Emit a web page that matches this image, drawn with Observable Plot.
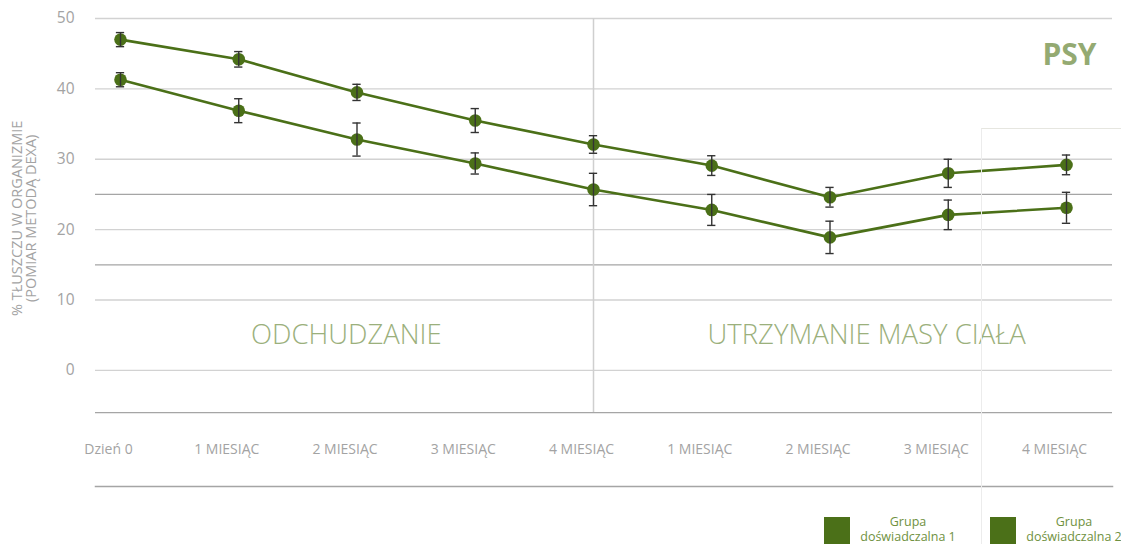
<!DOCTYPE html>
<html>
<head>
<meta charset="utf-8">
<script src="https://cdn.jsdelivr.net/npm/d3@7"></script>
<script src="https://cdn.jsdelivr.net/npm/@observablehq/plot@0.6"></script>
<style>
  body { margin: 0; background: #fff; font-family: "Open Sans", sans-serif; }
  #wrap { position: relative; width: 1121px; }
  #box { position: absolute; left: 981px; top: 128px; right: 0; height: 416px; border-left: 1px solid #ececec; border-top: 1px solid #e6e6e0; pointer-events: none; }
  #legend { position: relative; height: 44px; width: 1121px; }
  .item { position: absolute; top: 17px; display: flex; align-items: flex-start; }
  .sw { width: 26px; height: 27px; background: #4b7018; }
  .lab { width: 104px; margin-left: 6px; text-align: center; font-size: 12.5px; line-height: 15px; color: #6f9140; margin-top: -3px; }
</style>
</head>
<body>
<div id="wrap">
  <div id="chart"></div>
  <div id="legend"></div>
  <div id="box"></div>
</div>
<script>
const categories = ["Dzień 0", "1 MIESIĄC", "2 MIESIĄC", "3 MIESIĄC", "4 MIESIĄC", "1 MIESIĄC", "2 MIESIĄC", "3 MIESIĄC", "4 MIESIĄC"];
const group1 = [47.0, 44.2, 39.5, 35.5, 32.1, 29.1, 24.6, 28.0, 29.2];
const group1Err = [1.0, 1.1, 1.15, 1.7, 1.25, 1.4, 1.4, 2.0, 1.4];
const group2 = [41.3, 36.9, 32.8, 29.4, 25.7, 22.8, 18.9, 22.1, 23.1];
const group2Err = [1.0, 1.7, 2.35, 1.5, 2.3, 2.2, 2.3, 2.1, 2.2];
const seriesNames = ["Grupa\ndoświadczalna 1", "Grupa\ndoświadczalna 2"];
const yTicks = [0, 10, 20, 30, 40, 50];
const tableLines = [25, 15, -6];
const phases = ["ODCHUDZANIE", "UTRZYMANIE MASY CIAŁA"];
const phaseX = [1.91, 6.31];
const yLabel = "% TŁUSZCZU W ORGANIZMIE\n(POMIAR METODĄ DEXA)";
const title = "PSY";

const lineColor = "#4b7018";
const data = [];
[[group1, group1Err], [group2, group2Err]].forEach(([vals, errs], s) => {
  vals.forEach((v, i) => data.push({series: seriesNames[s], i, v, e: errs[i]}));
});
const cats = categories.map((c, i) => ({c, i}));

const chart = Plot.plot({
  width: 1121,
  height: 500,
  marginLeft: 95,
  marginRight: 9,
  marginTop: 18,
  marginBottom: 14,
  style: {fontFamily: "'Open Sans', sans-serif", color: "#a3a3a3", background: "#fff"},
  x: {domain: [-0.2114, 8.389], axis: null},
  y: {domain: [-16.5, 50], axis: null},
  marks: [
    Plot.ruleY(yTicks, {stroke: "#d2d2d2", strokeWidth: 1.3}),
    Plot.ruleY(tableLines, {stroke: "#a5a5a5", strokeWidth: 1.3}),
    Plot.frame({anchor: "bottom", stroke: "#a5a5a5", strokeWidth: 1.5}),
    Plot.ruleX([4], {y1: -6, y2: 50, stroke: "#cfcfcf", strokeWidth: 1.5}),
    Plot.axisY(yTicks, {tickSize: 0, tickPadding: 21, fontSize: 15.5, label: null, fill: "#a3a3a3"}),
    Plot.text([yLabel], {frameAnchor: "left", y: () => 21.6, rotate: -90, dx: -71, fontSize: 14.5, lineHeight: 0.97, fill: "#a3a3a3", textAnchor: "middle"}),
    Plot.text(cats, {x: "i", y: () => -11.25, text: "c", dx: -12, fontSize: 14, fill: "#a3a3a3"}),
    Plot.text(phases, {x: (d, i) => phaseX[i], y: () => 5, text: d => d, fontSize: 27.5, fontWeight: 300, fill: "#9bb07c"}),
    Plot.text([title], {frameAnchor: "right", y: () => 44.7, dx: -16, textAnchor: "end", fontSize: 30, fontWeight: "bold", fill: "#94aa72"}),
    Plot.line(data, {x: "i", y: "v", z: "series", stroke: lineColor, strokeWidth: 2.6}),
    Plot.dot(data, {x: "i", y: "v", r: 6.3, fill: lineColor}),
    Plot.ruleX(data, {x: "i", y1: d => d.v - d.e, y2: d => d.v + d.e, stroke: "#333", strokeWidth: 1.4}),
    Plot.ruleY(data, {y: d => d.v - d.e, x1: d => d.i - 0.035, x2: d => d.i + 0.035, stroke: "#333", strokeWidth: 1.4}),
    Plot.ruleY(data, {y: d => d.v + d.e, x1: d => d.i - 0.035, x2: d => d.i + 0.035, stroke: "#333", strokeWidth: 1.4})
  ]
});
document.getElementById("chart").appendChild(chart);

const legend = document.getElementById("legend");
const legendLeft = [824, 990];
seriesNames.forEach((name, k) => {
  const item = document.createElement("div");
  item.className = "item";
  item.style.left = legendLeft[k] + "px";
  const sw = document.createElement("div");
  sw.className = "sw";
  const lab = document.createElement("div");
  lab.className = "lab";
  lab.innerHTML = name.split("\n").join("<br>");
  item.appendChild(sw);
  item.appendChild(lab);
  legend.appendChild(item);
});
</script>
</body>
</html>
